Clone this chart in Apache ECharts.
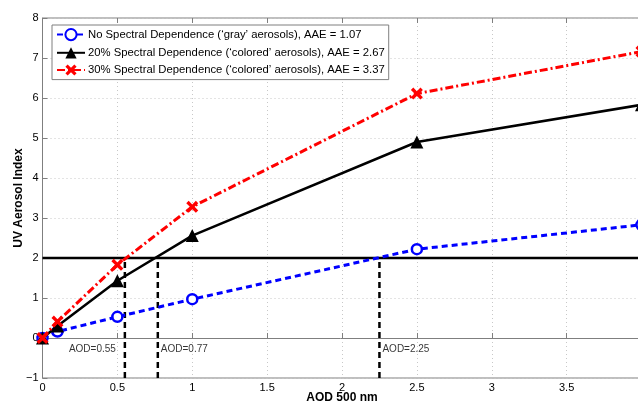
<!DOCTYPE html>
<html>
<head>
<meta charset="utf-8">
<script src="https://cdn.jsdelivr.net/npm/echarts@6/dist/echarts.min.js"></script>
<style>
  html, body { margin: 0; padding: 0; background: #fff; }
  #chart { width: 638px; height: 404px; }
</style>
</head>
<body>
<div id="chart"></div>
<script>
// AOD at 500 nm for each computed point
var aod = [0, 0.1, 0.5, 1, 2.5, 4];
// UV Aerosol Index for the three spectral-dependence cases
var uvaiGray = [0, 0.16, 0.53, 0.97, 2.22, 2.83];
var uvai20 = [0, 0.3, 1.43, 2.56, 4.9, 5.83];
var uvai30 = [0, 0.41, 1.83, 3.28, 6.11, 7.16];
var seriesNames = [
  'No Spectral Dependence (\u2018gray\u2019 aerosols), AAE = 1.07',
  '20% Spectral Dependence (\u2018colored\u2019 aerosols), AAE = 2.67',
  '30% Spectral Dependence (\u2018colored\u2019 aerosols), AAE = 3.37'
];
// UVAI detection threshold and the AOD where each curve crosses it
var thresholdIndex = 2;
var crossingAod = [0.55, 0.77, 2.25];
var crossingLabels = ['AOD=0.55', 'AOD=0.77', 'AOD=2.25'];
var crossingLabelSide = ['left', 'right', 'right'];
var xTicks = [0, 0.5, 1, 1.5, 2, 2.5, 3, 3.5, 4];
var yTicks = [-1, 0, 1, 2, 3, 4, 5, 6, 7, 8];

var FONT = '"Liberation Sans", Arial, Helvetica, sans-serif';
var xSymbol = 'path://M2,0 L5,3 L8,0 L10,2 L7,5 L10,8 L8,10 L5,7 L2,10 L0,8 L3,5 L0,2 Z';

function pairs(xs, ys) {
  return xs.map(function (x, i) { return [x, ys[i]]; });
}
function fmt(v) {
  return String(v).replace('-', '\u2212');
}

var series = [];

// Threshold line
series.push({
  type: 'line', silent: true, z: 1,
  data: [[xTicks[0], thresholdIndex], [xTicks[xTicks.length - 1], thresholdIndex]],
  symbol: 'none',
  lineStyle: { color: '#000', width: 2.5, type: 'solid' }
});

// Vertical dashed markers from the axis floor up to the threshold
crossingAod.forEach(function (a, i) {
  series.push({
    type: 'line', silent: true, z: 1,
    data: [[a, yTicks[0]], [a, thresholdIndex]],
    symbol: 'none',
    lineStyle: { color: '#000', width: 2.5, type: [6, 4] }
  });
  series.push({
    type: 'scatter', silent: true, z: 2,
    data: [[a, -0.27]],
    symbolSize: 0,
    label: {
      show: true,
      position: crossingLabelSide[i],
      distance: crossingLabelSide[i] === 'left' ? 9 : 3,
      formatter: crossingLabels[i],
      color: '#000', fontSize: 10, fontFamily: FONT
    }
  });
});

series.push({
  name: seriesNames[0], type: 'line', z: 3,
  data: pairs(aod, uvaiGray),
  symbol: 'circle', symbolSize: 10,
  itemStyle: { color: '#fff', borderColor: '#0000ff', borderWidth: 2.5 },
  lineStyle: { color: '#0000ff', width: 3, type: [6, 4] }
});
series.push({
  name: seriesNames[1], type: 'line', z: 4,
  data: pairs(aod, uvai20),
  symbol: 'triangle', symbolSize: 13,
  itemStyle: { color: '#000' },
  lineStyle: { color: '#000', width: 2.5, type: 'solid' }
});
series.push({
  name: seriesNames[2], type: 'line', z: 5,
  data: pairs(aod, uvai30),
  symbol: xSymbol, symbolSize: 12,
  itemStyle: { color: '#ff0000' },
  lineStyle: { color: '#ff0000', width: 3, type: [8, 3, 2, 3] }
});

var chart = echarts.init(document.getElementById('chart'), null, { renderer: 'canvas' });
chart.setOption({
  animation: false,
  backgroundColor: '#fff',
  textStyle: { fontFamily: FONT },
  grid: {
    left: 42.5, top: 18, right: -3.5, bottom: 26,
    outerBoundsMode: 'none', containLabel: false,
    show: true, borderColor: '#7f7f7f', borderWidth: 1
  },
  legend: {
    left: 52, top: 25,
    orient: 'vertical',
    data: seriesNames,
    itemWidth: 28, itemHeight: 14, itemGap: 6,
    padding: [3, 4, 4, 4],
    borderColor: '#7f7f7f', borderWidth: 1,
    backgroundColor: '#fff',
    textStyle: { color: '#000', fontSize: 11.3, fontFamily: FONT, padding: [0, 0, 0, -2] }
  },
  xAxis: [{
    type: 'value', min: xTicks[0], max: xTicks[xTicks.length - 1], interval: 0.5,
    name: 'AOD 500 nm', nameLocation: 'middle', nameGap: 14, nameMoveOverlap: false,
    nameTextStyle: { fontWeight: 'bold', fontSize: 12, color: '#000', fontFamily: FONT },
    axisLine: { show: true, lineStyle: { color: '#7f7f7f' } },
    axisTick: { show: true, inside: true, length: 5, lineStyle: { color: '#7f7f7f' } },
    axisLabel: { color: '#000', fontSize: 11, margin: 4, showMaxLabel: false, formatter: fmt },
    splitLine: { show: true, lineStyle: { color: '#c8c8c8', type: [1, 3] } }
  }, {
    type: 'value', position: 'top', min: xTicks[0], max: xTicks[xTicks.length - 1], interval: 0.5,
    axisLine: { show: false },
    axisTick: { show: true, inside: true, length: 5, lineStyle: { color: '#7f7f7f' } },
    axisLabel: { show: false },
    splitLine: { show: false }
  }],
  yAxis: {
    type: 'value', min: yTicks[0], max: yTicks[yTicks.length - 1], interval: 1,
    name: 'UV Aerosol Index', nameLocation: 'middle', nameGap: 18, nameMoveOverlap: false,
    nameTextStyle: { fontWeight: 'bold', fontSize: 12, color: '#000', fontFamily: FONT },
    axisLine: { show: true, lineStyle: { color: '#7f7f7f' } },
    axisTick: { show: true, inside: true, length: 5, lineStyle: { color: '#7f7f7f' } },
    axisLabel: { color: '#000', fontSize: 11, margin: 4, formatter: fmt },
    splitLine: { show: true, lineStyle: { color: '#c8c8c8', type: [1, 3] } }
  },
  series: series
});
</script>
</body>
</html>
